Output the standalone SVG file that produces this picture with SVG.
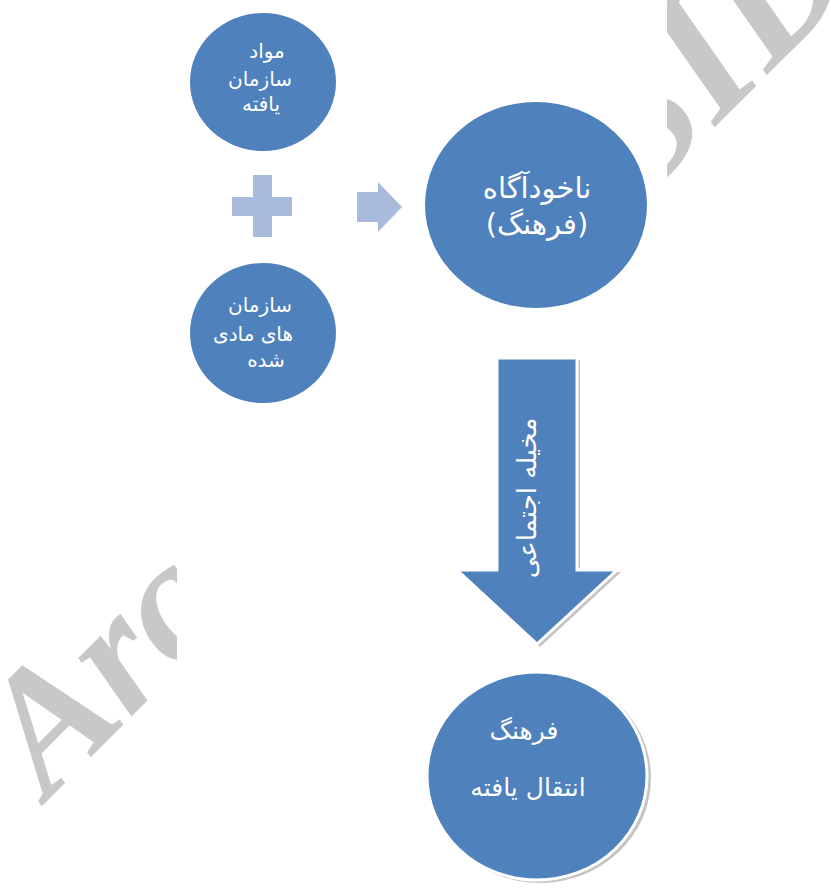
<svg xmlns="http://www.w3.org/2000/svg" width="831" height="888" viewBox="0 0 831 888">
  <style>
    .node { fill: #4f81bd; }
    .lbl { fill: #ffffff; font-family: "DejaVu Sans", "Noto Sans", sans-serif; text-anchor: middle; direction: rtl; }
    .conn { fill: #a9bbdc; }
    .wm { fill: #c8c8c8; font-family: "Liberation Serif", "DejaVu Serif", serif; font-weight: bold; font-style: italic; }
  </style>
  <rect x="0" y="0" width="831" height="888" fill="#ffffff"/>
  <!-- watermark, partly hidden by the diagram's white area -->
  <g id="watermark">
    <text class="wm" font-size="172" transform="translate(48,800) rotate(-45)">Arc<tspan dx="30">hive of</tspan></text>
    <text class="wm" font-size="188" transform="translate(642,200) rotate(-45)">SID</text>
    <rect x="177" y="0" width="490" height="888" fill="#ffffff"/>
  </g>

  <g id="connectors">
    <g id="plus">
      <rect class="conn" x="253" y="175" width="19" height="62"/>
      <rect class="conn" x="232" y="197" width="60" height="19"/>
    </g>
    <polygon id="arrow-right" class="conn" points="357,192 378,192 378,182 402,207 378,232 378,222 357,222"/>
    <g id="arrow-down">
      <polygon points="500,360 580,360 580,572 621,572 540,647 460,572 500,572" fill="#c4c4c4"/>
      <polygon points="497,358 577,358 577,570 617,570 537,644 457,570 497,570" fill="#4f81bd" stroke="#ffffff" stroke-width="3" stroke-linejoin="miter"/>
      <text class="lbl" font-size="26" transform="translate(536,498) rotate(-90)">مخیله اجتماعی</text>
    </g>
  </g>

  <g id="node-mavad">
    <ellipse class="node" cx="263" cy="82" rx="73" ry="69"/>
    <text class="lbl" font-size="20" x="267" y="58">مواد</text>
    <text class="lbl" font-size="20" x="260" y="86">سازمان</text>
    <text class="lbl" font-size="20" x="261" y="111">یافته</text>
  </g>

  <g id="node-sazman">
    <ellipse class="node" cx="263" cy="333" rx="73" ry="70"/>
    <text class="lbl" font-size="20" x="260" y="312">سازمان</text>
    <text class="lbl" font-size="20" x="253" y="341">های مادی</text>
    <text class="lbl" font-size="20" x="266" y="367">شده</text>
  </g>

  <g id="node-nakhodagah">
    <ellipse class="node" cx="536" cy="205" rx="111" ry="103"/>
    <text class="lbl" font-size="29" x="537" y="198">ناخودآگاه</text>
    <text class="lbl" font-size="29" x="537" y="234">(فرهنگ)</text>
  </g>

  <g id="node-farhang">
    <ellipse cx="540" cy="778" rx="111" ry="105" fill="#c4c4c4"/>
    <ellipse class="node" cx="537" cy="776" rx="110" ry="104" stroke="#ffffff" stroke-width="3"/>
    <text class="lbl" font-size="25" x="524" y="739">فرهنگ</text>
    <text class="lbl" font-size="25" x="528" y="796">انتقال یافته</text>
  </g>
</svg>
